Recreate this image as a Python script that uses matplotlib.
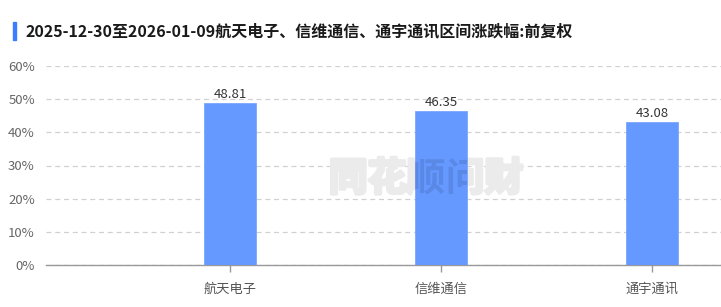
import matplotlib
matplotlib.use("Agg")
import matplotlib.pyplot as plt
import matplotlib.patheffects as pe
from matplotlib.patches import Rectangle

plt.rcParams['font.family'] = ['Noto Sans CJK SC', 'DejaVu Sans']

title = "2025-12-30至2026-01-09航天电子、信维通信、通宇通讯区间涨跌幅:前复权"
categories = ["航天电子", "信维通信", "通宇通讯"]
values = [48.81, 46.35, 43.08]
yticks = [0, 10, 20, 30, 40, 50, 60]
ytick_labels = ["0%", "10%", "20%", "30%", "40%", "50%", "60%"]
watermark = "同花顺问财"

W, H = 721, 307
fig = plt.figure(figsize=(W / 100, H / 100), dpi=100)
ax = fig.add_axes([46 / W, (H - 265) / H, (721 - 46) / W, (265 - 66) / H])

x = list(range(len(categories)))
bars = ax.bar(x, values, width=0.246, color="#6699ff", edgecolor="#7aa6ff", linewidth=0.6, zorder=3)
for xi, v in zip(x, values):
    ax.text(xi, v + 0.6, f"{v:.2f}", ha="center", va="bottom", fontsize=9.5, color="#333333", zorder=4)

ax.set_ylim(0, 60)
ax.set_xlim((46 - 230) / 211, (721 - 230) / 211)
ax.set_yticks(yticks)
ax.set_yticklabels(ytick_labels, fontsize=9.5, color="#666666")
ax.set_xticks(x)
ax.set_xticklabels(categories, fontsize=9.5, color="#555555")
ax.tick_params(axis="y", length=0, pad=8)
ax.tick_params(axis="x", length=5, width=1, color="#999999", pad=8)

ax.grid(axis="y", linestyle=(0, (4, 3)), color="#d0d0d0", linewidth=0.9, zorder=0)
for s in ["top", "right", "left"]:
    ax.spines[s].set_visible(False)
ax.spines["bottom"].set_color("#999999")
ax.spines["bottom"].set_linewidth(1)

wm_pos = (426 / W, (H - 179) / H)
ax.text(*wm_pos, watermark, transform=fig.transFigure, fontsize=28,
        fontweight="black", color="#ebebeb", ha="center", va="center", zorder=2,
        path_effects=[pe.withStroke(linewidth=2.5, foreground="#ebebeb")])
for b in bars:
    t = ax.text(*wm_pos, watermark, transform=fig.transFigure, fontsize=28,
                fontweight="black", color="#1a2a60", alpha=0.15, ha="center", va="center",
                zorder=3.5)
    t.set_clip_on(True)
    t.set_clip_path(b)

fig.patches.append(Rectangle((13 / W, (H - 40) / H), 3 / W, 18 / H, transform=fig.transFigure,
                             color="#3d7cff", figure=fig))
fig.text(26 / W, (H - 31) / H, title, fontsize=11.5, fontweight="bold", color="#1a1a1a",
         ha="left", va="center")

fig.savefig("out.png", dpi=100)
